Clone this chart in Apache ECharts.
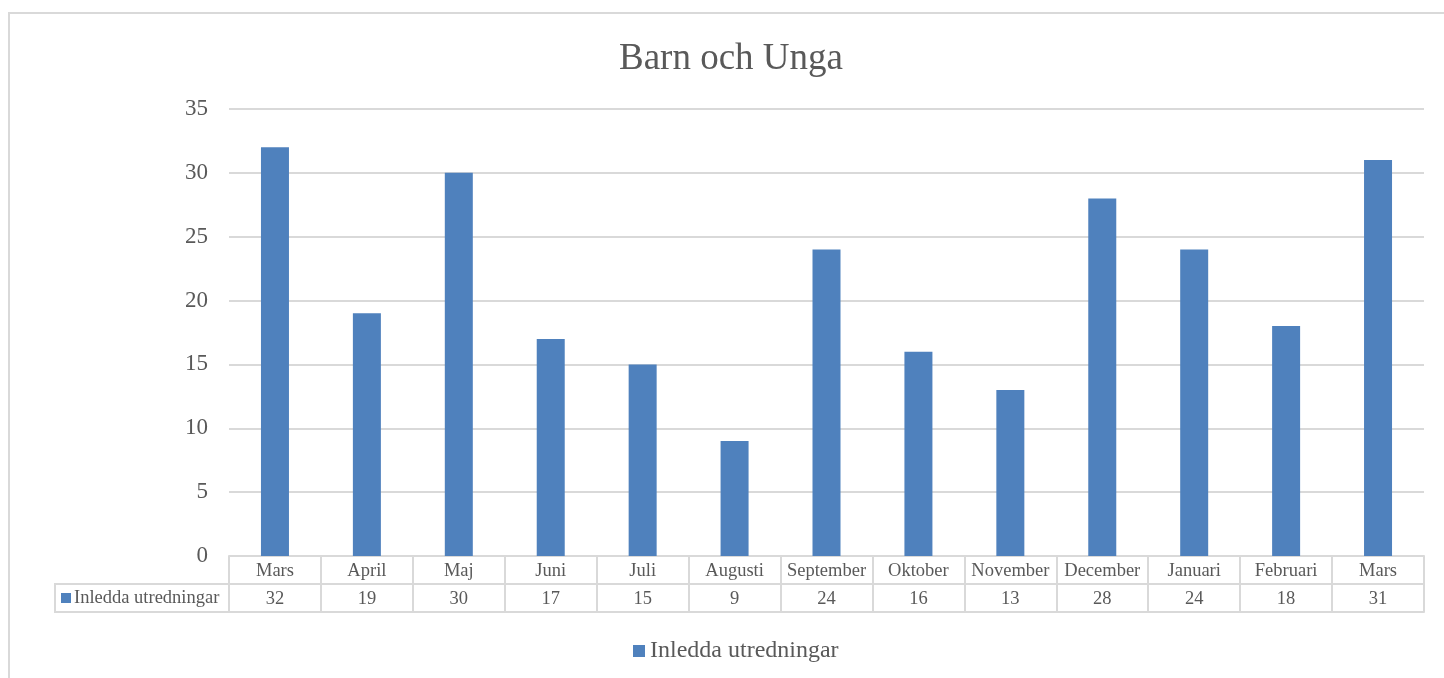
<!DOCTYPE html>
<html>
<head>
<meta charset="utf-8">
<script src="https://cdn.jsdelivr.net/npm/echarts@6/dist/echarts.min.js"></script>
<style>
html,body{margin:0;padding:0;background:#fff;}
#main{width:1444px;height:678px;}
</style>
</head>
<body>
<div id="main"></div>
<script>
const title = "Barn och Unga";
const seriesName = "Inledda utredningar";
const categories = ["Mars","April","Maj","Juni","Juli","Augusti","September","Oktober","November","December","Januari","Februari","Mars"];
const values = [32,19,30,17,15,9,24,16,13,28,24,18,31];
const yTicks = {min:0, max:35, interval:5};

const font = "'Liberation Serif', 'Times New Roman', serif";
const txt = "#595959";
const gridCol = "#d9d9d9";
const barCol = "#4f81bd";

const chart = echarts.init(document.getElementById('main'), null, {renderer:'canvas'});
const option = {
  animation:false,
  backgroundColor:'#fff',
  title:{text:title, left:614, top:36, textStyle:{fontFamily:font, fontSize:37, fontWeight:'normal', color:txt}},
  legend:{top:634, left:628, icon:'rect', itemWidth:12, itemHeight:12, itemGap:5,
    textStyle:{fontFamily:font, fontSize:24, color:txt}, data:[seriesName]},
  grid:{left:229, right:20, top:109, bottom:122, containLabel:false},
  xAxis:[
    {type:'category', data:categories, position:'bottom',
     axisLine:{show:true, lineStyle:{color:gridCol, width:2}},
     axisTick:{show:true, length:56, inside:false, alignWithLabel:false, lineStyle:{color:gridCol, width:2}},
     axisLabel:{interval:0, margin:6, fontFamily:font, fontSize:18.5, color:txt}},
    {type:'category', data:values.map(String), position:'bottom', offset:28,
     axisLine:{show:true, lineStyle:{color:gridCol, width:2}},
     axisTick:{show:false},
     axisLabel:{interval:0, margin:6, fontFamily:font, fontSize:18.5, color:txt}},
    {type:'category', data:categories.map(()=>''), position:'bottom', offset:56,
     axisLine:{show:true, lineStyle:{color:gridCol, width:2}},
     axisTick:{show:false}, axisLabel:{show:false}}
  ],
  yAxis:{type:'value', min:yTicks.min, max:yTicks.max, interval:yTicks.interval,
    axisLine:{show:false}, axisTick:{show:false},
    splitLine:{lineStyle:{color:gridCol, width:2}},
    axisLabel:{margin:21, fontFamily:font, fontSize:23, color:txt, padding:[3,0,0,0]}},
  series:[{name:seriesName, type:'bar', xAxisIndex:0, data:values, barWidth:28,
    itemStyle:{color:barCol}}],
  graphic:[
    {type:'rect', shape:{x:9, y:13, width:1500, height:700}, style:{fill:'none', stroke:gridCol, lineWidth:2}, silent:true, z:-1},
    {type:'line', shape:{x1:55, y1:584, x2:229, y2:584}, style:{stroke:gridCol, lineWidth:2}},
    {type:'line', shape:{x1:55, y1:612, x2:229, y2:612}, style:{stroke:gridCol, lineWidth:2}},
    {type:'line', shape:{x1:55, y1:583, x2:55, y2:613}, style:{stroke:gridCol, lineWidth:2}},
    {type:'rect', shape:{x:61, y:593, width:10, height:10}, style:{fill:barCol}},
    {type:'text', x:74, y:598, style:{text:seriesName, fontFamily:font, fontSize:18.5, fill:txt, verticalAlign:'middle'}}
  ]
};
chart.setOption(option);
</script>
</body>
</html>
